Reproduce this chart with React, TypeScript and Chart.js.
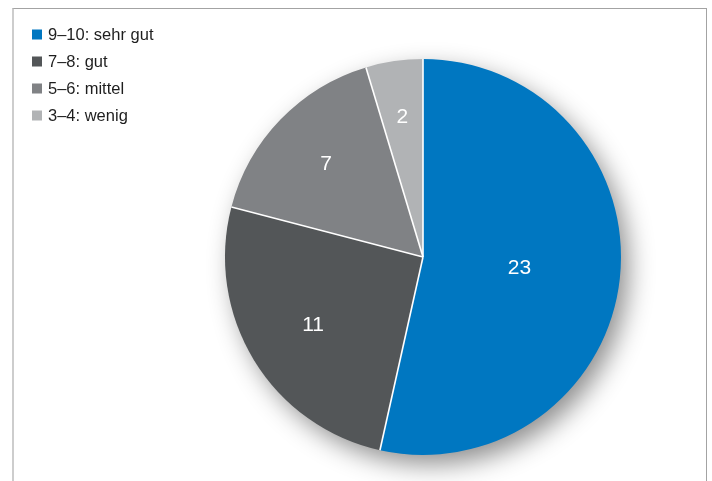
import React, { useEffect, useRef } from "react";
import { Chart, registerables } from "chart.js";

Chart.register(...registerables);

const categories = ["9–10: sehr gut", "7–8: gut", "5–6: mittel", "3–4: wenig"];
const counts = [23, 11, 7, 2];
const sliceColors = ["#0077c1", "#535658", "#808285", "#b1b3b5"];
const labelRadiusFractions = [0.49, 0.65, 0.68, 0.72];

const FONT = "'Liberation Sans', Arial, Helvetica, sans-serif";

const shadowPlugin = {
  id: "pieShadow",
  beforeDatasetsDraw(chart: any) {
    const arc = chart.getDatasetMeta(0).data[0];
    if (!arc) return;
    const { x, y, outerRadius } = arc.getProps(["x", "y", "outerRadius"], true);
    const ctx = chart.ctx;
    ctx.save();
    ctx.shadowColor = "rgba(0,0,0,0.45)";
    ctx.shadowBlur = 26;
    ctx.shadowOffsetX = 8;
    ctx.shadowOffsetY = 10;
    ctx.fillStyle = "#888";
    ctx.beginPath();
    ctx.arc(x, y, outerRadius - 1, 0, Math.PI * 2);
    ctx.fill();
    ctx.restore();
  },
};

const separatorPlugin = {
  id: "sliceSeparators",
  afterDatasetsDraw(chart: any) {
    const ctx = chart.ctx;
    const meta = chart.getDatasetMeta(0);
    ctx.save();
    ctx.strokeStyle = "#ffffff";
    ctx.lineWidth = 1.6;
    meta.data.forEach((arc: any) => {
      const { x, y, startAngle, outerRadius } = arc.getProps(
        ["x", "y", "startAngle", "outerRadius"],
        true
      );
      ctx.beginPath();
      ctx.moveTo(x, y);
      ctx.lineTo(x + Math.cos(startAngle) * outerRadius, y + Math.sin(startAngle) * outerRadius);
      ctx.stroke();
    });
    ctx.restore();
  },
};

const valueLabelPlugin = {
  id: "valueLabels",
  afterDatasetsDraw(chart: any) {
    const ctx = chart.ctx;
    const meta = chart.getDatasetMeta(0);
    const values = chart.data.datasets[0].data as number[];
    ctx.save();
    ctx.fillStyle = "#ffffff";
    ctx.font = `21px ${FONT}`;
    ctx.textAlign = "center";
    ctx.textBaseline = "middle";
    meta.data.forEach((arc: any, i: number) => {
      const { x, y, startAngle, endAngle, outerRadius } = arc.getProps(
        ["x", "y", "startAngle", "endAngle", "outerRadius"],
        true
      );
      const mid = (startAngle + endAngle) / 2;
      const r = outerRadius * labelRadiusFractions[i];
      ctx.fillText(String(values[i]), x + Math.cos(mid) * r, y + Math.sin(mid) * r + 1);
    });
    ctx.restore();
  },
};

const legendPlugin = {
  id: "customLegend",
  afterDraw(chart: any) {
    const ctx = chart.ctx;
    const labels = chart.data.labels as string[];
    const colors = chart.data.datasets[0].backgroundColor as string[];
    ctx.save();
    ctx.font = `16.5px ${FONT}`;
    ctx.textAlign = "left";
    ctx.textBaseline = "middle";
    labels.forEach((label, i) => {
      const cy = 34.5 + i * 27;
      ctx.fillStyle = colors[i];
      ctx.fillRect(32, cy - 5, 10, 10);
      ctx.fillStyle = "#1e1e1e";
      ctx.fillText(label, 48, cy + 1);
    });
    ctx.restore();
  },
};

export default function App() {
  const canvasRef = useRef<HTMLCanvasElement | null>(null);

  useEffect(() => {
    if (!canvasRef.current) return;
    const chart = new Chart(canvasRef.current, {
      type: "pie",
      data: {
        labels: categories,
        datasets: [
          {
            data: counts,
            backgroundColor: sliceColors,
            borderWidth: 0,
          },
        ],
      },
      options: {
        animation: false,
        responsive: false,
        radius: 198,
        layout: { padding: { left: 140, right: 6, top: 40, bottom: 7 } },
        plugins: {
          legend: { display: false },
          tooltip: { enabled: false },
        },
      } as any,
      plugins: [shadowPlugin, separatorPlugin, valueLabelPlugin, legendPlugin],
    });
    return () => chart.destroy();
  }, []);

  return (
    <div style={{ position: "fixed", left: 0, top: 0, width: 712, height: 481, background: "#fff" }}>
      <div
        style={{
          position: "absolute",
          left: 12,
          top: 8,
          width: 692,
          height: 480,
          borderTop: "1px solid #a3a3a3",
          borderLeft: "2px solid #cdcdcd",
          borderRight: "1px solid #a3a3a3",
        }}
      />
      <canvas
        ref={canvasRef}
        width={712}
        height={481}
        style={{ position: "absolute", left: 0, top: 0, width: 712, height: 481 }}
      />
    </div>
  );
}
